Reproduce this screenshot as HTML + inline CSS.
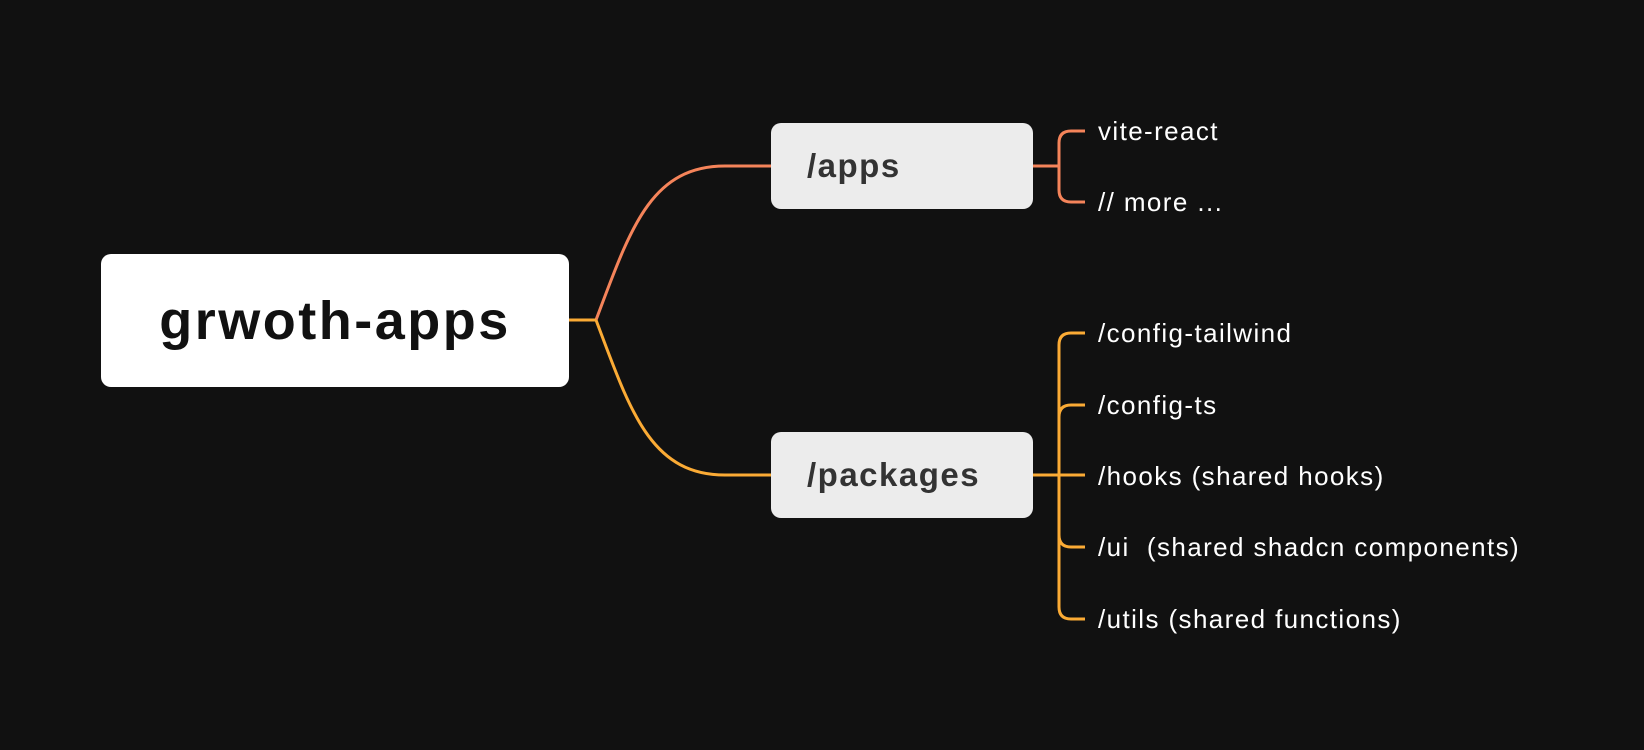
<!DOCTYPE html>
<html><head><meta charset="utf-8"><style>
html,body{margin:0;padding:0;background:#111111;}
body{width:1644px;height:750px;position:relative;overflow:hidden;font-family:"Liberation Sans",sans-serif;}
.box{position:absolute;border-radius:10px;display:flex;align-items:center;font-weight:bold;}
.t{position:absolute;color:#fff;font-size:26px;line-height:30px;white-space:pre;letter-spacing:1.4px;}
</style></head><body>
<svg width="1644" height="750" style="position:absolute;left:0;top:0" fill="none" stroke-width="3">
<g stroke="#f5845a">
<path d="M596 320 C630 230 650 166 725 166 L771 166"/>
<path d="M1033 166 L1059 166"/>
<path d="M1085 131 L1071 131 Q1059 131 1059 143 L1059 190 Q1059 202 1071 202 L1085 202"/>
</g>
<g stroke="#fbab35">
<path d="M569 320 L596 320"/>
<path d="M596 320 C630 410 650 475 725 475 L771 475"/>
<path d="M1033 475 L1085 475"/>
<path d="M1085 333 L1071 333 Q1059 333 1059 345 L1059 607 Q1059 619 1071 619 L1085 619"/>
<path d="M1059 417 Q1059 405 1071 405 L1085 405"/>
<path d="M1059 535 Q1059 547 1071 547 L1085 547"/>
</g>
</svg>
<div class="box" style="left:101px;top:254px;width:468px;height:133px;background:#fff;justify-content:center;color:#111;font-size:54px;letter-spacing:2.5px;">grwoth-apps</div>
<div class="box" style="left:771px;top:123px;width:262px;height:86px;background:#ececec;color:#333;font-size:33px;letter-spacing:1.5px;padding-left:36px;box-sizing:border-box;">/apps</div>
<div class="box" style="left:771px;top:432px;width:262px;height:86px;background:#ececec;color:#333;font-size:33px;letter-spacing:1.5px;padding-left:36px;box-sizing:border-box;">/packages</div>
<div class="t" style="left:1098px;top:116px">vite-react</div>
<div class="t" style="left:1098px;top:187px">// more ...</div>
<div class="t" style="left:1098px;top:318px">/config-tailwind</div>
<div class="t" style="left:1098px;top:390px">/config-ts</div>
<div class="t" style="left:1098px;top:461px">/hooks (shared hooks)</div>
<div class="t" style="left:1098px;top:532px">/ui  (shared shadcn components)</div>
<div class="t" style="left:1098px;top:604px">/utils (shared functions)</div>
</body></html>
